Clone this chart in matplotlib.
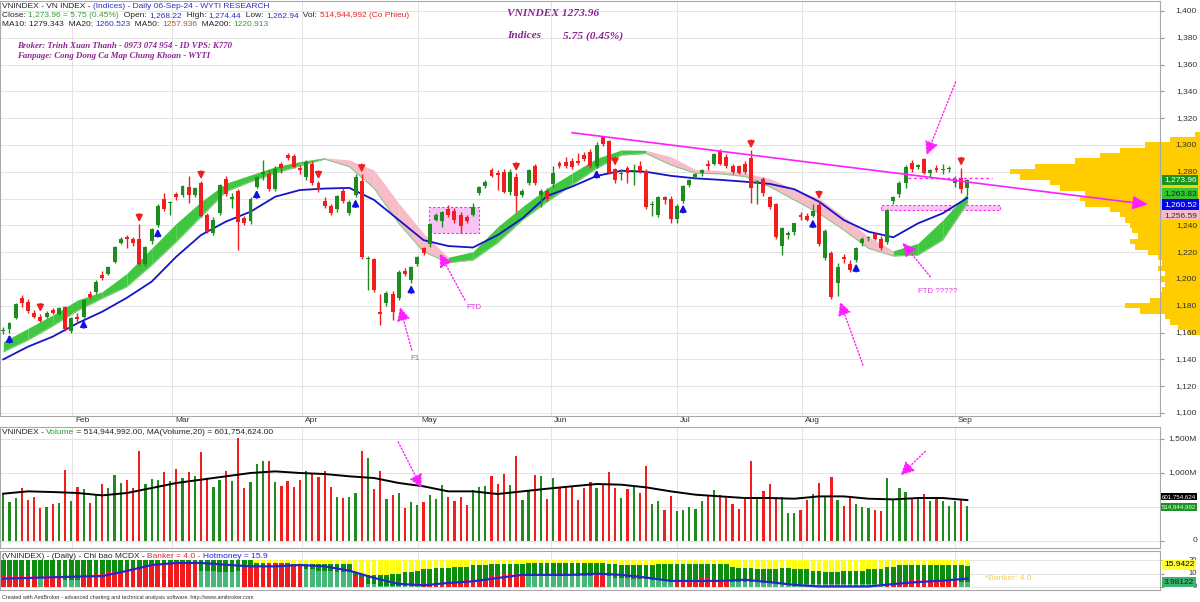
import numpy as np
import matplotlib
matplotlib.use("Agg")
import matplotlib.pyplot as plt
from matplotlib import font_manager
from matplotlib.patches import Rectangle
from matplotlib.transforms import blended_transform_factory

W, H = 1200, 602

_names = {f.name for f in font_manager.fontManager.ttflist}
NARROW = "Liberation Sans Narrow" in _names
SANS = "Liberation Sans Narrow" if NARROW else "Liberation Sans"
SERIF = "Liberation Serif"
plt.rcParams["font.family"] = [SANS, "DejaVu Sans"]
FS = 7.0 if NARROW else 6.0

# ---------------- data ----------------
opens = [1161, 1163, 1171, 1186, 1183, 1175, 1172, 1172, 1177, 1174,
         1179, 1161, 1172, 1172, 1188.6, 1190, 1203, 1204, 1213, 1227,
         1231.5, 1229.6, 1229.6, 1211.5, 1228, 1240, 1259.5, 1257, 1263.4, 1263,
         1269, 1262.7, 1272, 1247.5, 1234.6, 1249.5, 1275, 1260, 1266, 1245.5,
         1243, 1269, 1278.5, 1278, 1267.5, 1285.8, 1292.5, 1292, 1283, 1276,
         1286, 1271.4, 1258.5, 1254.5, 1252, 1266, 1249.5, 1262.7, 1273.4, 1214.7,
         1214.7, 1175.6, 1182.3, 1189, 1186, 1206, 1199, 1211, 1222.9, 1226,
         1244, 1243, 1252, 1251, 1248, 1246, 1248, 1264, 1269.4, 1281.3,
         1279, 1280, 1265, 1276.4, 1263, 1272, 1284.3, 1263, 1266, 1271,
         1286.3, 1287, 1288, 1288.4, 1292.5, 1294.7, 1284.5, 1305.7, 1303.3, 1281.8,
         1278.5, 1282.6, 1280.5, 1284.3, 1280.8, 1255, 1247.8, 1261, 1260, 1245,
         1258, 1270.3, 1276, 1279, 1286, 1286, 1295.5, 1291, 1284, 1284,
         1286, 1290, 1271, 1274.5, 1261, 1256, 1225, 1233, 1235, 1247.8,
         1247, 1247, 1255.2, 1215.4, 1219.2, 1196.8, 1216.7, 1211, 1214, 1227,
         1230.5, 1233.6, 1230, 1227.9, 1258.5, 1263.4, 1272, 1286.8, 1283.5, 1289.3,
         1279, 1283, 1281.5, 1282, 1271.5, 1275.6, 1268.22]
highs = [1164, 1168, 1182, 1188, 1185, 1177, 1174, 1176, 1178, 1179,
         1180, 1172, 1175, 1185, 1191, 1199, 1206, 1210, 1225, 1231,
         1233, 1231, 1241, 1225, 1238, 1256, 1264, 1258, 1265, 1270,
         1277, 1269, 1273, 1249, 1246, 1271, 1277, 1264, 1267, 1247,
         1261, 1277, 1289, 1281, 1284, 1287, 1294, 1293, 1285, 1289,
         1288, 1273, 1261, 1256, 1263, 1268, 1259, 1278, 1278, 1217,
         1216, 1189, 1191, 1191, 1206.5, 1208, 1210, 1217, 1224, 1242,
         1249, 1251, 1255, 1253, 1250, 1248, 1257, 1269.5, 1274, 1283,
         1281, 1282, 1282, 1279, 1267, 1282, 1286, 1267, 1268, 1284,
         1288, 1291, 1290, 1294, 1295, 1297, 1302, 1307, 1304, 1283,
         1282, 1284, 1286, 1288, 1282, 1258, 1262, 1262, 1262, 1256,
         1270, 1275, 1279, 1282, 1289, 1294, 1297, 1293, 1286, 1285,
         1288, 1296, 1274, 1276, 1262, 1257, 1239, 1236, 1242, 1250,
         1249, 1256, 1258, 1237, 1221, 1212, 1219, 1214, 1224, 1231,
         1232, 1235, 1232, 1252, 1262, 1273, 1285, 1289, 1286, 1290,
         1282, 1285, 1286, 1284, 1277, 1283, 1274.44]
lows = [1159, 1160, 1170, 1179, 1175, 1171, 1168, 1171, 1174, 1173,
        1161, 1160, 1167, 1171, 1185, 1189, 1199, 1203, 1212, 1226,
        1223, 1225, 1210, 1210, 1226, 1239, 1251, 1247.8, 1259, 1261,
        1257, 1261, 1246, 1234, 1233, 1248, 1262, 1252.7, 1221.6, 1240,
        1241, 1268, 1274, 1266, 1266, 1279, 1289, 1283, 1278, 1274,
        1270, 1265, 1253, 1248, 1250, 1257, 1248, 1261, 1215, 1191.8,
        1190, 1165.7, 1180, 1169.4, 1184, 1202, 1197, 1210, 1218, 1224,
        1243, 1239, 1246, 1242, 1234, 1242, 1247, 1263, 1268, 1276,
        1266.4, 1264, 1263, 1250, 1261, 1270, 1270, 1254, 1258, 1269,
        1283, 1283, 1282, 1285, 1288, 1283, 1283, 1299, 1278, 1272,
        1274, 1271.4, 1270, 1279, 1252, 1247, 1246, 1256, 1242, 1242,
        1257, 1269, 1275, 1277, 1281, 1285, 1285, 1283, 1278, 1278,
        1278, 1256.5, 1256, 1262, 1252, 1230, 1218, 1230, 1233, 1244,
        1243, 1246, 1225, 1214, 1185, 1187, 1212, 1205, 1213, 1225,
        1228, 1229, 1222, 1226, 1256, 1261, 1268, 1280, 1282, 1278,
        1276, 1280, 1278, 1280, 1269, 1264, 1262.94]
closes = [1161.5, 1167, 1181, 1182, 1176, 1172, 1169, 1175, 1175, 1178,
          1163, 1171, 1170, 1184, 1186.3, 1198, 1200.5, 1209, 1224, 1230,
          1229.6, 1226.6, 1211.2, 1223.6, 1237, 1254.5, 1252, 1257.5, 1261, 1269.4,
          1262.5, 1268, 1247, 1235.3, 1244, 1270, 1263.4, 1261, 1242.8, 1242,
          1259.5, 1276, 1279.5, 1267.2, 1281.8, 1282.6, 1290, 1283.8, 1281, 1287.6,
          1271.4, 1267, 1254.5, 1249.5, 1262, 1258.5, 1257.7, 1276.4, 1216.2, 1215.5,
          1191.8, 1174, 1189.3, 1175.6, 1205.5, 1203.7, 1209, 1216.2, 1219.7, 1241,
          1247.8, 1250.2, 1247.8, 1244, 1239.6, 1243, 1253.5, 1268.4, 1272.6, 1276.9,
          1277.5, 1265.2, 1280, 1262, 1266, 1281.3, 1272, 1265.5, 1260, 1279,
          1284, 1284, 1283.5, 1286.3, 1289.3, 1284, 1300, 1300.7, 1279.4, 1273.9,
          1279, 1279.4, 1281, 1280.8, 1253.5, 1256, 1261, 1259, 1244.5, 1254.5,
          1269.4, 1274, 1278, 1281.4, 1284, 1293.3, 1286, 1284, 1279.5, 1279,
          1279.5, 1267.7, 1273, 1264, 1253.5, 1231.1, 1237.8, 1234, 1241.5, 1246,
          1244, 1251, 1226.1, 1236, 1186.8, 1209.2, 1214.7, 1207, 1222.9, 1230,
          1231, 1230, 1223.5, 1251.5, 1261.4, 1271.9, 1283.8, 1281.8, 1285, 1279.4,
          1281, 1281, 1282, 1282.5, 1275, 1266.9, 1273.96]

# volume in millions of shares
volume_m = [706, 573, 632, 779, 607, 642, 485, 495, 544, 559,
            1048, 583, 789, 769, 559, 671, 838, 779, 975, 853,
            892, 779, 1328, 838, 916, 902, 1014, 887, 1063, 926,
            1014, 951, 1308, 916, 789, 902, 1024, 887, 1514, 779,
            867, 1132, 1181, 1171, 867, 804, 887, 789, 902, 1034,
            1000, 936, 1034, 789, 642, 632, 642, 706, 1318, 1220,
            769, 1024, 622, 671, 700, 485, 573, 528, 573, 671,
            612, 818, 642, 593, 642, 534, 750, 789, 809, 951,
            838, 985, 828, 1245, 607, 730, 966, 951, 617, 926,
            789, 804, 804, 607, 779, 862, 779, 838, 1009, 779,
            632, 764, 804, 706, 1098, 544, 593, 461, 666, 441,
            461, 495, 470, 593, 676, 750, 676, 632, 544, 475,
            632, 1171, 642, 730, 838, 652, 652, 412, 412, 461,
            607, 691, 858, 652, 936, 607, 514, 642, 544, 495,
            485, 456, 436, 926, 607, 779, 720, 617, 642, 691,
            593, 652, 583, 514, 593, 607, 514.9]

# indicator lines, sampled every 4th bar (bar 0, 4, ..., 156)
vol_ma_m = [696, 730, 720, 706, 671, 706, 779, 853, 902, 951,
            1000, 1024, 1000, 985, 951, 926, 853, 804, 730, 730,
            691, 730, 769, 804, 838, 828, 789, 730, 681, 656,
            632, 632, 622, 656, 656, 622, 612, 632, 632, 601.75]
ma20 = [1140, 1149.5, 1157, 1167, 1175.6, 1186, 1198, 1216.7, 1232.8, 1242.8,
        1250.2, 1261.4, 1266.4, 1267.5, 1268, 1259, 1244, 1229, 1224.6, 1223.5,
        1232.8, 1245.3, 1262, 1268.9, 1276.9, 1280.8, 1280, 1277, 1275.1, 1274,
        1272.6, 1271, 1267, 1257.7, 1244, 1235.3, 1231.1, 1241.5, 1249, 1260.52]
band_hi = [1153.2, 1163.2, 1173.1, 1184.3, 1190.5, 1204.2, 1222.9, 1241.5, 1257.7, 1271.4,
           1277.6, 1283.8, 1287.6, 1290.5, 1288.8, 1281.3, 1256.5, 1234.1, 1216.2, 1220.4,
           1239, 1254, 1267.7, 1278.9, 1290, 1296.3, 1296, 1291.3, 1281.8, 1281,
           1279, 1275.1, 1267, 1260.2, 1246.5, 1231.6, 1221.1, 1226.6, 1244, 1263.83]
band_lo = [1145.7, 1154.5, 1165, 1176.4, 1185.6, 1194.3, 1210.4, 1227.9, 1246.5, 1265.2,
           1272.6, 1278.9, 1284.5, 1289.5, 1283.8, 1267.7, 1241.5, 1220.4, 1212.2, 1214.2,
           1227.1, 1244, 1257.7, 1270.1, 1282.6, 1292.5, 1293.7, 1285.1, 1278.9, 1278.5,
           1276.5, 1268.9, 1259, 1249, 1236.6, 1222.9, 1217.2, 1217.9, 1229.1, 1256.59]

# MCDX panel
banker = [8, 9, 9, 9, 8, 8, 7, 8, 8, 8,
          5, 5, 5, 8, 9, 10, 10, 11, 11, 12,
          13, 14, 15, 15, 16, 16, 17, 17, 17, 18,
          18, 18, 12, 12, 12, 11, 11, 11, 12, 15,
          16, 16, 16, 17, 17, 17, 16, 16, 16, 13,
          13, 12, 12, 12, 11, 11, 11, 8, 7, 2,
          2, 1, 1, 1, 1, 1, 1, 1, 2, 3,
          3, 3, 4, 4, 4, 5, 5, 6, 6, 9,
          9, 10, 10, 10, 10, 8, 8, 8, 8, 8,
          8, 8, 8, 8, 8, 8, 10, 10, 8, 7,
          7, 7, 6, 6, 6, 5, 5, 5, 5, 6,
          6, 6, 6, 7, 7, 6, 6, 6, 4, 4,
          4, 4, 4, 3, 3, 3, 3, 3, 2, 2,
          2, 2, 2, 2, 2, 2, 2, 2, 2, 2,
          2, 2, 2, 3, 3, 4, 4, 5, 5, 5,
          5, 5, 5, 5, 5, 4, 4.0]
# r = red (banker rising), t = teal
banker_kind = ("rrrrrrtrrr" "tttrrrrrrr" "rrrrrrrrrr" "rrtttttttr" "rrrrrrrrrt"
               "tttttttrrt" "ttttttttrr" "rrrrrrrrrr" "rrrrrttttt" "ttttttrrtt"
               "tttttttttr" "rrrrrrrrtt" "tttttttttt" "tttttttttt" "tttrrrrrrr"
               "rrrrrtt")
hotmoney = [20, 20, 20, 20, 20, 20, 20, 20, 20, 20,
            20, 20, 20, 20, 20, 20, 20, 20, 20, 20,
            20, 20, 20, 20, 20, 20, 20, 20, 20, 20,
            20, 20, 20, 20, 20, 20, 20, 20, 20, 20,
            20, 18, 18, 18, 18, 18, 18, 17, 17, 17,
            17, 17, 17, 17, 17, 17, 17, 11, 10, 9,
            9, 9, 9, 10, 10, 11, 11, 12, 13, 13,
            14, 14, 14, 15, 15, 15, 16, 16, 16, 17,
            17, 17, 17, 17, 17, 18, 18, 18, 18, 18,
            18, 18, 18, 18, 18, 18, 18, 18, 17, 17,
            16, 16, 16, 16, 16, 16, 17, 17, 17, 17,
            17, 17, 17, 17, 17, 17, 17, 17, 15, 14,
            14, 14, 13, 13, 13, 13, 14, 14, 13, 13,
            13, 12, 12, 11, 11, 11, 12, 12, 12, 12,
            13, 13, 13, 15, 15, 16, 16, 16, 16, 16,
            16, 16, 16, 16, 16, 16, 15.9]
mcdx_line = [6.2, 6.7, 7.2, 7.7, 8.1, 11.9, 16.3, 17.8, 17.8, 16.5,
             15.3, 15.3, 16.3, 15.3, 12.1, 6.7, 2.3, 1.3, 3.0, 4.2,
             6.7, 9, 9, 9, 9.9, 9, 7, 4.5, 4.5, 4.5,
             5.4, 3.6, 1.6, 0.4, 0.4, 0.4, 2.2, 3.7, 4.7, 6.2]

# volume-at-price profile (price level, relative volume)
vp_price = [1160, 1164, 1168, 1172, 1176, 1180, 1184, 1188, 1192, 1196,
            1200, 1204, 1208, 1212, 1216, 1220, 1224, 1228, 1232, 1236,
            1240, 1244, 1248, 1252, 1256, 1260, 1264, 1268, 1272, 1276,
            1280, 1284, 1288, 1292, 1296, 1300, 1304, 1308]
vp_volume = [1.9, 3.6, 4.9, 5.7, 9.7, 12.1, 8.1, 6.5, 6.1, 5.7,
             6.5, 5.7, 6.8, 6.1, 6.8, 8.4, 10.5, 11.3, 10, 11,
             11.3, 12.1, 12.9, 14.6, 18.6, 19.4, 18.6, 22.7, 24.3, 29.1,
             30.7, 26.7, 20.2, 16.2, 12.9, 8.9, 4.9, 0.8]

up_signals = [1, 13, 25, 41, 57, 66, 96, 110, 131, 138]
down_signals = [6, 22, 32, 51, 58, 83, 99, 121, 132, 155]

month_labels = ["Feb", "Mar", "Apr", "May", "Jun", "Jul", "Aug", "Sep"]
month_pos = [11.1, 27.3, 48.3, 67.1, 88.6, 109.0, 129.2, 154.0]

# ---------------- styling ----------------
C_UP = "#1f8c1f"
C_DN = "#f21d1d"
C_BAND_UP = "#3fc83f"
C_BAND_DN = "#f6bcc8"
C_BLUE = "#1414c8"
MAG = "#ff1fff"
GRID = "#e4e4e4"
SPINE = "#a8a8a8"
PURPLE = "#8c2494"

XMIN, XMAX = -3.3 / 6.18, (1160 - 3.3) / 6.18
X_FIG_RIGHT = (1200 - 3.3) / 6.18

fig = plt.figure(figsize=(W / 100, H / 100), dpi=100)
ax = fig.add_axes([0, 1 - 416 / H, 1160 / W, 415 / H])
axv = fig.add_axes([0, 1 - 548 / H, 1160 / W, 121 / H])
axm = fig.add_axes([0, 1 - 590 / H, 1160 / W, 39 / H])

for a in (ax, axv, axm):
    a.set_xlim(XMIN, XMAX)
    a.set_xticks(month_pos)
    a.tick_params(axis="x", bottom=False, labelbottom=False)
    a.tick_params(axis="y", left=False, right=True, labelleft=False,
                  labelright=False, length=3, color="#999999")
    a.grid(True, color=GRID, lw=0.7)
    a.set_axisbelow(True)
    for s in a.spines.values():
        s.set_color(SPINE)
        s.set_linewidth(0.8)

ax.set_ylim(1400 - (416 - 11) / 1.34, 1400 + 10 / 1.34)
axv.set_ylim(-(548 - 541) / 34 * 500, (541 - 427) / 34 * 500)
axm.set_ylim(-(590 - 587) / 1.35, (587 - 551) / 1.35)

o, h, l, c = map(np.asarray, (opens, highs, lows, closes))
x = np.arange(len(c))
is_up = c >= o
cols = np.where(is_up, C_UP, C_DN)
xs4 = x[::4]

# ---------------- price panel ----------------
price_ticks = list(range(1100, 1401, 20))
ax.set_yticks(price_ticks)

# volume-at-price profile, hanging from the right edge of the picture
ax.barh(vp_price, vp_volume, left=X_FIG_RIGHT - np.asarray(vp_volume), height=4.0,
        color="#ffcc00", lw=0, zorder=1.2, clip_on=False)

# shaded boxes
ax.add_patch(Rectangle((68.9, 1234.0), 8.1, 19.5, fc="#f9c4f4", ec=MAG,
                       ls=(0, (2, 2)), lw=0.8, zorder=1.5))
ax.add_patch(Rectangle((142.1, 1251.5), 19.2, 3.7, fc="#f9c4f4", ec=MAG,
                       ls=(0, (2, 2)), lw=0.8, zorder=1.5))

# ribbon: green while rising, pink while falling
bh, bl = np.asarray(band_hi), np.asarray(band_lo)
mid = (bh + bl) / 2
for j in range(len(xs4) - 1):
    colr = C_BAND_UP if mid[j + 1] >= mid[j] else C_BAND_DN
    ax.fill_between(xs4[j:j + 2], bl[j:j + 2], bh[j:j + 2], color=colr, lw=0, zorder=2)
ax.plot(xs4, bl, color="#88c888", lw=0.8, zorder=2.1)

ax.plot(xs4, ma20, color=C_BLUE, lw=1.3, zorder=3)

# candles
ax.vlines(x, l, h, colors=cols, lw=1.0, zorder=4)
ax.bar(x, np.maximum(np.abs(c - o), 0.8), bottom=np.minimum(o, c), width=0.64,
       color=cols, lw=0, zorder=5)

sig = dict(arrowstyle="-|>,head_length=0.55,head_width=0.28", lw=1.3,
           mutation_scale=7, shrinkA=0, shrinkB=0)
for i in down_signals:
    ax.annotate("", xy=(i, h[i] + 1.5), xytext=(i, h[i] + 7.5),
                arrowprops=dict(color=C_DN, **sig), zorder=6)
for i in up_signals:
    ax.annotate("", xy=(i, l[i] - 1.5), xytext=(i, l[i] - 7.5),
                arrowprops=dict(color="#1010e0", **sig), zorder=6)

# hand-drawn annotations
ax.annotate("", xy=(185.2, 1255.6), xytext=(92.0, 1309.2), annotation_clip=False,
            arrowprops=dict(arrowstyle="-|>,head_length=1.0,head_width=0.45", color=MAG,
                            lw=1.2, mutation_scale=9, shrinkA=0, shrinkB=0), zorder=6)
ax.plot([146.4, 160.0], [1275.1, 1275.1], color=MAG, ls=(0, (2, 2)), lw=1.0, zorder=6)


def dotted_arrow(axx, tail, head):
    axx.annotate("", xy=head, xytext=tail, annotation_clip=False,
                 arrowprops=dict(arrowstyle="-|>,head_length=0.9,head_width=0.45", color=MAG,
                                 lw=1.0, ls=(0, (1, 1.5)), mutation_scale=9,
                                 shrinkA=0, shrinkB=0), zorder=6)


dotted_arrow(ax, (66.1, 1147.0), (64.2, 1179.0))
dotted_arrow(ax, (74.7, 1184.3), (70.6, 1219.2))
dotted_arrow(ax, (154.1, 1347.0), (149.4, 1292.5))
dotted_arrow(ax, (139.1, 1135.8), (135.4, 1183.0))
dotted_arrow(ax, (150.0, 1201.7), (145.5, 1227.1))
for tx, ty, s in [(66.6, 1140.5, "F1"), (76.1, 1179.0, "FTD"), (151.2, 1191.0, "FTD ?????")]:
    ax.text(tx, ty, s, color="#e23ce2", fontsize=FS - 0.3, ha="center", va="center", zorder=6)

# right-hand price scale
ytr = ax.get_yaxis_transform()
for v in price_ticks:
    ax.text(1197 / 1160, v, f"{v:,}", transform=ytr, ha="right", va="center",
            fontsize=FS, color="#333333", zorder=7, clip_on=False)


def tag(axx, y, s, fc, tc, fs=FS, x0=1164):
    axx.text(x0 / 1160, y, s, transform=axx.get_yaxis_transform(), ha="left", va="center",
             fontsize=fs, color=tc, zorder=8, clip_on=False,
             bbox=dict(boxstyle="square,pad=0.2", fc=fc, ec="none"))


tag(ax, 1274.0, f"{closes[-1]:,.2f}", "#17951f", "white")
tag(ax, 1263.8, f"{band_hi[-1]:,.2f}", "#33c433", "#0a2a0a")
tag(ax, 1255.6, f"{ma20[-1]:,.2f}", "#0000f0", "white")
tag(ax, 1247.6, f"{band_lo[-1]:,.2f}", "#f6bcc6", "#333333")

# month labels between price and volume panels
mtr = blended_transform_factory(ax.transData, fig.transFigure)
for pos, lab in zip(month_pos, month_labels):
    ax.text(pos + 0.5, 1 - 421 / H, lab, transform=mtr, ha="left", va="center",
            fontsize=FS, color="#333333", clip_on=False)

# ---------------- volume panel ----------------
axv.set_yticks([0, 500, 1000, 1500])
axv.bar(x, volume_m, width=0.36, color=cols, lw=0, zorder=3)
axv.plot(xs4, vol_ma_m, color="black", lw=1.4, zorder=4)
dotted_arrow(axv, (63.9, 1456), (67.7, 779))
dotted_arrow(axv, (149.2, 1319), (145.2, 966))
vtr = axv.get_yaxis_transform()
for v, s in [(1500, "1,500M"), (1000, "1,000M"), (0, "0")]:
    axv.text(1197 / 1160, v, s, transform=vtr, ha="right", va="center",
             fontsize=FS, color="#333333", zorder=7, clip_on=False)
tag(axv, 651, "601,754,624", "black", "white", fs=FS - 1.6, x0=1162)
tag(axv, 500, "514,944,992", "#17951f", "white", fs=FS - 1.6, x0=1162)

# ---------------- MCDX panel ----------------
axm.set_yticks([0, 10, 20])
kind_col = ["#ee1c1c" if k == "r" else "#45b779" for k in banker_kind]
axm.bar(x, 20, width=0.76, color="#ffff14", lw=0, zorder=3)
axm.bar(x, hotmoney, width=0.76, color="#0d8d0d", lw=0, zorder=3.1)
axm.bar(x, banker, width=0.76, color=kind_col, lw=0, zorder=3.2)
axm.plot(xs4, mcdx_line, color="#2626cc", lw=1.6, zorder=4)
mtr2 = axm.get_yaxis_transform()
for v in [20, 10, 0]:
    axm.text(1197 / 1160, v, str(v), transform=mtr2, ha="right", va="center",
             fontsize=FS - 0.5, color="#333333", zorder=7, clip_on=False)
tag(axm, 16.3, "15.9422", "#ffff33", "black")
tag(axm, 3.7, "3.98122", "#3cb371", "#0a2a0a")

# ---------------- text ----------------
renderer = fig.canvas.get_renderer()


def text_width(s, **kw):
    t = fig.text(0, 0, s + "|", **kw)
    w = t.get_window_extent(renderer).width
    t.set_text("|")
    w -= t.get_window_extent(renderer).width
    t.remove()
    return w


def colored_text(xp, yp, parts, **kw):
    for s, col in parts:
        fig.text(xp / W, 1 - yp / H, s, color=col, ha="left", va="center", **kw)
        xp += text_width(s, **kw)


BLK, BLU = "#222222", "#3030c8"
colored_text(2, 6, [("VNINDEX - VN INDEX - ", BLK),
                    ("(Indices) - Daily 06-Sep-24 - WYTI RESEARCH", BLU)], fontsize=FS)
colored_text(2, 15.5, [("Close: ", BLK), ("1,273.96 = 5.75 (0.45%)", "#3a9e3a"),
                       ("  Open: ", BLK), ("1,268.22", BLU), ("  High: ", BLK),
                       ("1,274.44", BLU), ("  Low: ", BLK), ("1,262.94", BLU),
                       ("  Vol: ", BLK), ("514,944,992 (Co Phieu)", "#e02828")], fontsize=FS)
colored_text(2, 25, [("MA10: 1279.343", BLK), ("  MA20: ", BLK), ("1260.523", BLU),
                     ("  MA50: ", BLK), ("1257.936", "#b0582e"), ("  MA200: ", BLK),
                     ("1220.913", "#2e9e2e")], fontsize=FS)

serif = dict(family=[SERIF, "DejaVu Serif"], style="italic", weight="bold", color=PURPLE)
fig.text(17 / W, 1 - 45.7 / H, "Broker: Trinh Xuan Thanh - 0973 074 954 - ID VPS: K770",
         fontsize=6.3, va="center", **serif)
fig.text(17 / W, 1 - 56 / H, "Fanpage: Cong Dong Ca Map Chung Khoan - WYTI",
         fontsize=6.3, va="center", **serif)
fig.text(507 / W, 1 - 13 / H, "VNINDEX 1273.96", fontsize=8.2, va="center", **serif)
fig.text(507 / W, 1 - 36 / H, "Indices", fontsize=8.2, va="center", **serif)
fig.text(563 / W, 1 - 36 / H, "5.75 (0.45%)", fontsize=8.2, va="center", **serif)

colored_text(2, 433, [("VNINDEX - ", BLK), ("Volume", "#2a9a2a"),
                      (" = 514,944,992.00, MA(Volume,20) = 601,754,624.00", BLK)], fontsize=FS)
colored_text(2, 556, [("(VNINDEX) - (Daily) - Chi bao MCDX - ", BLK),
                      ("Banker = 4.0 - ", "#ee2020"), ("Hotmoney = 15.9", "#2020ee")],
             fontsize=FS)
fig.text(985 / W, 1 - 578 / H, "*Banker: 4.0", color="#ffcc44", fontsize=FS, va="center")
fig.text(2 / W, 1 - 597 / H,
         "Created with AmiBroker - advanced charting and technical analysis software. "
         "http://www.amibroker.com", color="#333333", fontsize=FS - 2.0, va="center")

fig.savefig("out.png", dpi=100)
